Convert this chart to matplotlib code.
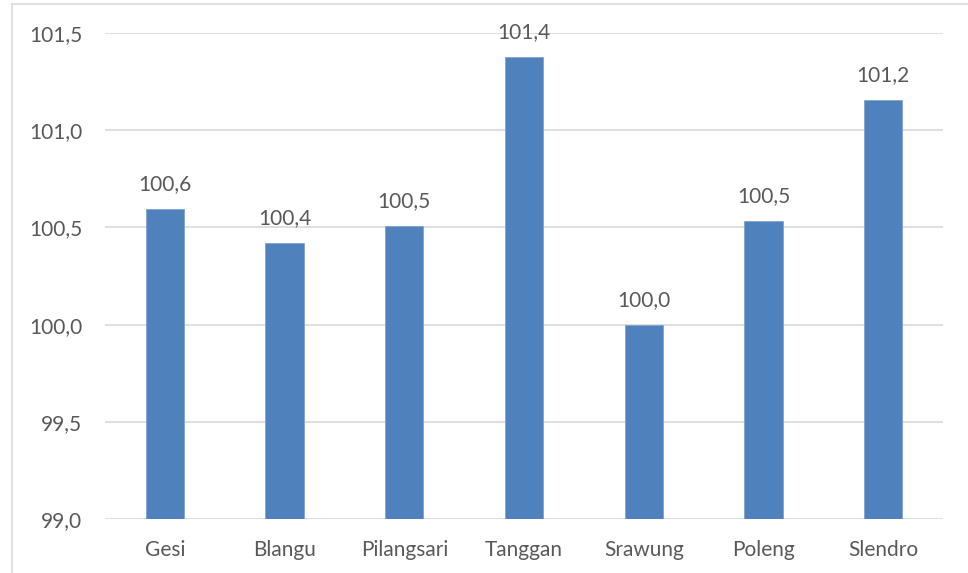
import matplotlib
matplotlib.use("Agg")
import matplotlib.pyplot as plt
from matplotlib.lines import Line2D

categories = ["Gesi", "Blangu", "Pilangsari", "Tanggan", "Srawung", "Poleng", "Slendro"]
values = [100.595, 100.42, 100.507, 101.377, 100.0, 100.533, 101.155]
y_ticks = [99.0, 99.5, 100.0, 100.5, 101.0, 101.5]

plt.rcParams["font.family"] = ["Lato", "DejaVu Sans"]
text_color = "#595959"
grid_color = "#D9D9D9"
bar_color = "#4F81BD"
fs = 15

W, H = 968, 573
fig = plt.figure(figsize=(W / 100, H / 100), dpi=100)
ax = fig.add_axes([105 / W, 1 - 519 / H, (943 - 105) / W, (519 - 33) / H])

x = range(len(categories))
ax.bar(x, [v - y_ticks[0] for v in values], bottom=y_ticks[0], width=0.32,
       color=bar_color, edgecolor="#7FA3D3", linewidth=0.6, zorder=3)

for xi, v in zip(x, values):
    ax.annotate(f"{v:.1f}".replace(".", ","), (xi, v), xytext=(0, 10.5),
                textcoords="offset points", ha="center", va="bottom",
                fontsize=fs, color=text_color, annotation_clip=False, zorder=4)

ax.set_xlim(-0.5, len(categories) - 0.5)
ax.set_ylim(y_ticks[0], y_ticks[-1])
ax.set_yticks(y_ticks)
ax.set_yticklabels([f"{t:.1f}".replace(".", ",") for t in y_ticks])
ax.set_xticks(list(x))
ax.set_xticklabels(categories)
ax.tick_params(axis="both", length=0, labelsize=fs, colors=text_color)
ax.tick_params(axis="y", pad=16.5)
ax.tick_params(axis="x", pad=15)
ax.grid(axis="y", color=grid_color, linewidth=1.2, zorder=0)
for s in ax.spines.values():
    s.set_visible(False)

# outer chart frame (left and top edges)
fig.add_artist(Line2D([11.5 / W, 11.5 / W], [0, 1 - 4 / H], transform=fig.transFigure,
                      color=grid_color, linewidth=1.2))
fig.add_artist(Line2D([11.5 / W, 1], [1 - 4 / H, 1 - 4 / H], transform=fig.transFigure,
                      color=grid_color, linewidth=1.2))

fig.savefig("out.png", dpi=100)
